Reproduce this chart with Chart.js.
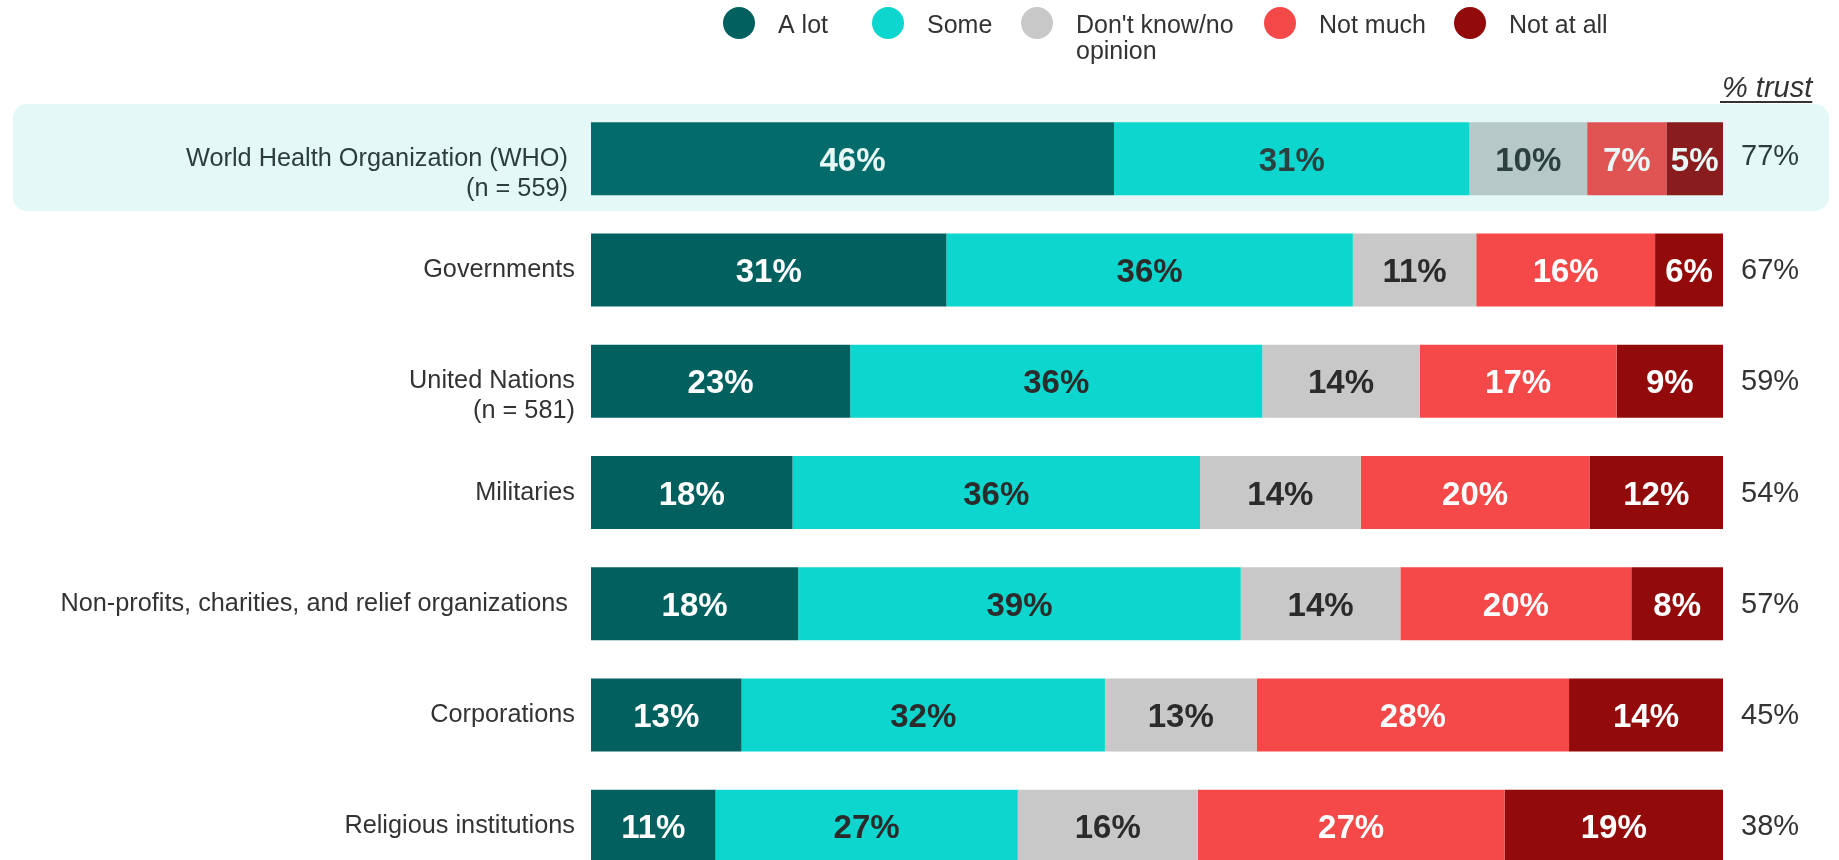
<!DOCTYPE html>
<html>
<head>
<meta charset="utf-8">
<script src="https://cdn.jsdelivr.net/npm/chart.js@4.4.1/dist/chart.umd.min.js"></script>
<style>
  html, body { margin: 0; padding: 0; background: #fff; overflow: hidden; }
  #wrap { width: 1839px; height: 900px; }
</style>
</head>
<body>
<div id="wrap"><canvas id="myChart" width="1839" height="900"></canvas></div>
<script>
// data (percent of respondents, rows add up to 100)
const categories = [
  ["World Health Organization (WHO) ", "(n = 559) "],
  ["Governments"],
  ["United Nations", "(n = 581)"],
  ["Militaries"],
  ["Non-profits, charities, and relief organizations "],
  ["Corporations"],
  ["Religious institutions"],
];
const seriesNames = ["A lot", "Some", "Don't know/no opinion", "Not much", "Not at all"];
const aLot = [46.2, 31.4, 22.9, 17.8, 18.3, 13.3, 11.0];
const some = [31.4, 35.9, 36.4, 36.0, 39.1, 32.1, 26.7];
const dontKnow = [10.4, 10.9, 13.9, 14.2, 14.1, 13.4, 15.9];
const notMuch = [7.0, 15.8, 17.4, 20.2, 20.4, 27.6, 27.1];
const notAtAll = [5.0, 6.0, 9.4, 11.8, 8.1, 13.6, 19.3];
const trust = [77, 67, 59, 54, 57, 45, 38];

// styles
const colors = ["#02605e", "#0dd6ce", "#c8c8c8", "#f54848", "#930a0a"];
const hiColors = ["#036c6a", "#0dd6ce", "#b6c9c8", "#e05353", "#891d1d"];
const textColors = ["#ffffff", "#2b2b2b", "#2b2b2b", "#ffffff", "#ffffff"];
const hiTextColors = ["#e8f8f7", "#2d4040", "#2d4040", "#e8f8f7", "#e8f8f7"];
const highlightRow = 0;
const legendX = [739, 888, 1037, 1280, 1470];
const FONT = "'Liberation Sans', Arial, sans-serif";

const ctx = document.getElementById("myChart");
const series = [aLot, some, dontKnow, notMuch, notAtAll];

const highlightBox = {
  id: "highlightBox",
  beforeDatasetsDraw(chart) {
    const c = chart.ctx;
    const y = chart.scales.y;
    const band = y.getPixelForValue(1) - y.getPixelForValue(0);
    const cy = y.getPixelForValue(highlightRow);
    c.save();
    c.fillStyle = "#e4f8f7";
    c.beginPath();
    c.roundRect(13, cy - band * 0.49, 1829 - 13, band * 0.96, 14);
    c.fill();
    c.restore();
  },
};

const barLabels = {
  id: "barLabels",
  afterDatasetsDraw(chart) {
    const c = chart.ctx;
    c.save();
    c.font = "bold 33px " + FONT;
    c.textAlign = "center";
    c.textBaseline = "alphabetic";
    chart.data.datasets.forEach((ds, i) => {
      chart.getDatasetMeta(i).data.forEach((bar, j) => {
        const v = ds.data[j];
        c.fillStyle = j === highlightRow ? hiTextColors[i] : textColors[i];
        c.fillText(Math.round(v) + "%", (bar.x + bar.base) / 2, bar.y + 12);
      });
    });
    c.restore();
  },
};

function wrap(c, text, maxW) {
  const words = text.split(" ");
  const lines = [];
  let line = "";
  words.forEach((w) => {
    const t = line ? line + " " + w : w;
    if (line && c.measureText(t).width > maxW) {
      lines.push(line);
      line = w;
    } else {
      line = t;
    }
  });
  lines.push(line);
  return lines;
}

const sideText = {
  id: "sideText",
  afterDraw(chart) {
    const c = chart.ctx;
    const y = chart.scales.y;
    c.save();
    // category labels
    c.font = "25.3px " + FONT;
    c.textAlign = "right";
    categories.forEach((lines, i) => {
      const cy = y.getPixelForValue(i);
      c.fillStyle = i === highlightRow ? "#2d3d3d" : "#333333";
      lines.forEach((l, k) => c.fillText(l, 575, cy + 7 + k * 30));
    });
    // trust column
    c.font = "29px " + FONT;
    c.textAlign = "left";
    trust.forEach((t, i) => {
      c.fillStyle = i === highlightRow ? "#2d3d3d" : "#333333";
      c.fillText(t + "%", 1741, y.getPixelForValue(i) + (i === highlightRow ? 6 : 9));
    });
    c.font = "italic 29px " + FONT;
    c.fillStyle = "#333333";
    c.fillText("% trust", 1722, 97);
    const w = c.measureText("% trust").width;
    c.fillRect(1720, 101, w + 2, 2);
    // legend
    c.font = "25px " + FONT;
    seriesNames.forEach((name, i) => {
      const x = legendX[i];
      c.fillStyle = colors[i];
      c.beginPath();
      c.arc(x, 23, 16, 0, Math.PI * 2);
      c.fill();
      c.fillStyle = "#333333";
      wrap(c, name, 175).forEach((l, k) => c.fillText(l, x + 39, 33 + k * 26));
    });
    c.restore();
  },
};

new Chart(ctx, {
  type: "bar",
  data: {
    labels: categories,
    datasets: series.map((vals, i) => ({
      label: seriesNames[i],
      data: vals,
      backgroundColor: categories.map((_, j) => (j === highlightRow ? hiColors[i] : colors[i])),
      borderWidth: 0,
      categoryPercentage: 1,
      barPercentage: 0.656,
    })),
  },
  options: {
    indexAxis: "y",
    responsive: false,
    animation: false,
    layout: { padding: { left: 591, right: 116, top: 103, bottom: 18 } },
    scales: {
      x: { stacked: true, min: 0, max: 100, display: false },
      y: { stacked: true, display: false },
    },
    plugins: {
      legend: { display: false },
      tooltip: { enabled: false },
    },
  },
  plugins: [highlightBox, barLabels, sideText],
});
</script>
</body>
</html>
